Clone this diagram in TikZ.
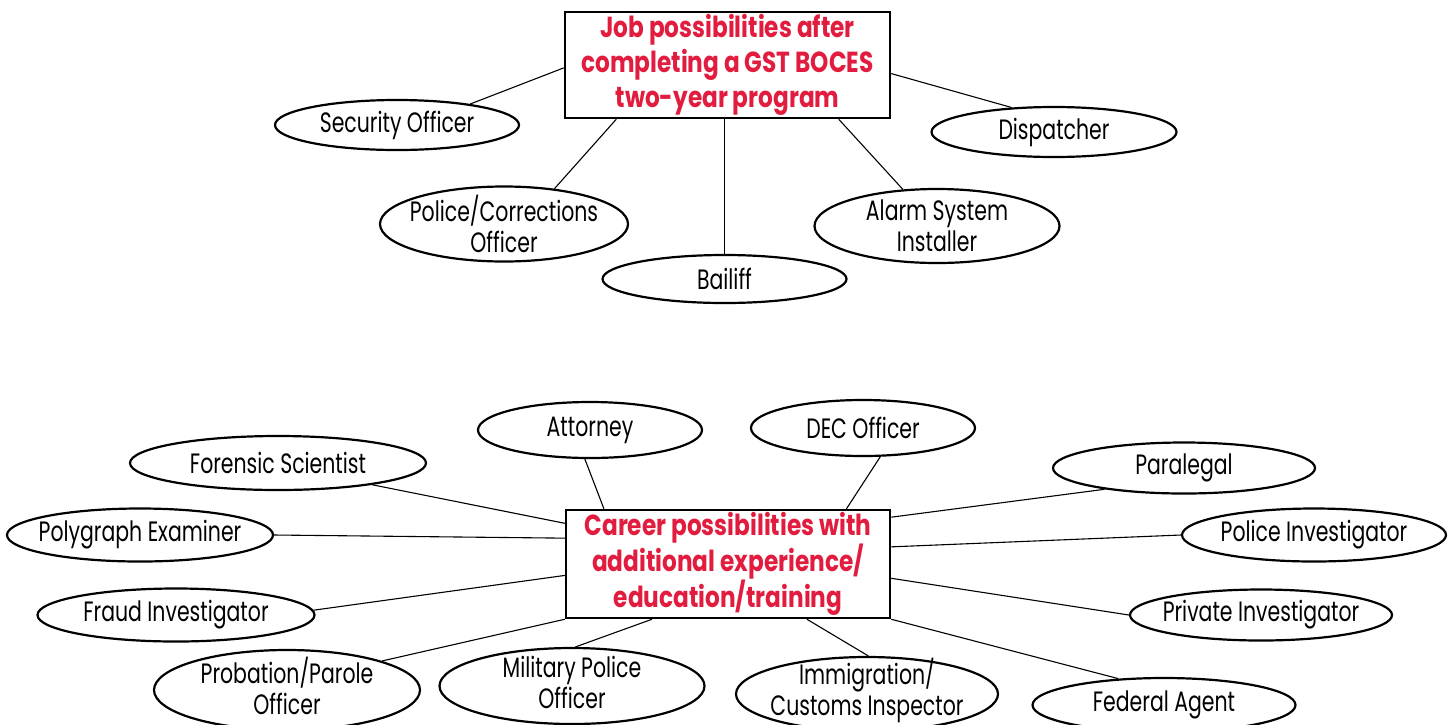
\documentclass[tikz,border=0pt]{standalone}
\usepackage{fontspec}
\setmainfont{Poppins}[FakeStretch=0.73]
\newfontfamily\titlefont{Poppins}[FakeStretch=0.8]
\usetikzlibrary{shapes.geometric,calc}
\definecolor{titlered}{RGB}{226,28,62}
\begin{document}
\begin{tikzpicture}[x=1pt,y=-1pt,
  jobtext/.style={inner sep=0pt,align=center,font=\fontsize{28}{31}\selectfont},
  jobshape/.style={ellipse,draw,line width=2.2pt,inner sep=0pt},
  job/.style={jobshape,label={[jobtext]center:#1}},
  jobhi/.style={jobshape,label={[jobtext,yshift=4pt]center:#1}},
  hub/.style={rectangle,draw,line width=2.5pt,inner sep=0pt,align=center,text=titlered,font=\titlefont\fontsize{29}{35}\selectfont\bfseries},
  link/.style={line width=1.1pt}]
\clip (0,0) rectangle (1455,724);
\fill[white] (0,0) rectangle (1455,724);
% top cluster
\node[hub,minimum width=325pt,minimum height=106pt] (top) at (727.5,65) {Job possibilities after\\completing a GST BOCES\\two-year program};
\node[job={Security Officer},minimum width=244pt,minimum height=50pt] (sec) at (397,125) {};
\node[job={Dispatcher},minimum width=245pt,minimum height=50pt] (disp) at (1054,132) {};
\node[job={Police/Corrections\\Officer},minimum width=248pt,minimum height=75pt] (pol) at (504,224) {};
\node[job={Bailiff},minimum width=244pt,minimum height=48pt] (bail) at (724.5,279) {};
\node[job={Alarm System\\Installer},minimum width=245pt,minimum height=74pt] (alarm) at (937,226) {};
\draw[link] (top.181.8) -- (sec.16.8);
\draw[link] (top.357.5) -- (disp.150.8);
\draw[link] (top.206.2) -- (pol.35.4);
\draw[link] (bail.north) -- (bail.north |- top.south);
\draw[link] (top.334) -- (alarm.133.6);
% bottom cluster
\node[hub,minimum width=324pt,minimum height=108pt] (bot) at (728,564) {Career possibilities with\\additional experience/\\education/training};
\node[job={Attorney},minimum width=224pt,minimum height=56pt] (att) at (590,430) {};
\node[job={DEC Officer},minimum width=224pt,minimum height=56pt] (dec) at (863,428) {};
\node[job={Forensic Scientist},minimum width=296pt,minimum height=54pt] (foren) at (278,463) {};
\node[job={Paralegal},minimum width=262pt,minimum height=51pt] (para) at (1184,468) {};
\node[job={Polygraph Examiner},minimum width=266pt,minimum height=53pt] (poly) at (140,535) {};
\node[job={Police Investigator},minimum width=264pt,minimum height=53pt] (polinv) at (1314,535) {};
\node[job={Fraud Investigator},minimum width=277pt,minimum height=53pt] (fraud) at (176,615) {};
\node[job={Private Investigator},minimum width=262pt,minimum height=51pt] (priv) at (1261,615) {};
\node[jobhi={Probation/Parole\\Officer},minimum width=266pt,minimum height=80pt] (prob) at (287,690) {};
\node[jobhi={Military Police\\Officer},minimum width=265pt,minimum height=76pt] (mil) at (572,686) {};
\node[jobhi={Immigration/\\Customs Inspector},minimum width=262pt,minimum height=74pt] (immig) at (867,694) {};
\node[job={Federal Agent},minimum width=263pt,minimum height=54pt] (fed) at (1164,705) {};
\draw[link] (bot.156.6) -- (att.260);
\draw[link] (bot.25.2) -- (dec.301.5);
\draw[link] (bot.166.5) -- (foren.347);
\draw[link] (bot.171.6) -- (poly.east);
\draw[link] (bot.184.9) -- (fraud.2);
\draw[link] (bot.south west) -- (prob.17.1);
\draw[link] (bot.216.5) -- (mil.85);
\draw[link] (bot.325) -- (immig.88);
\draw[link] (bot.south east) -- (fed.150);
\draw[link] (bot.16.5) -- (para.195.6);
\draw[link] (bot.6) -- (polinv.west);
\draw[link] (bot.355.1) -- (priv.west);
\end{tikzpicture}
\end{document}
